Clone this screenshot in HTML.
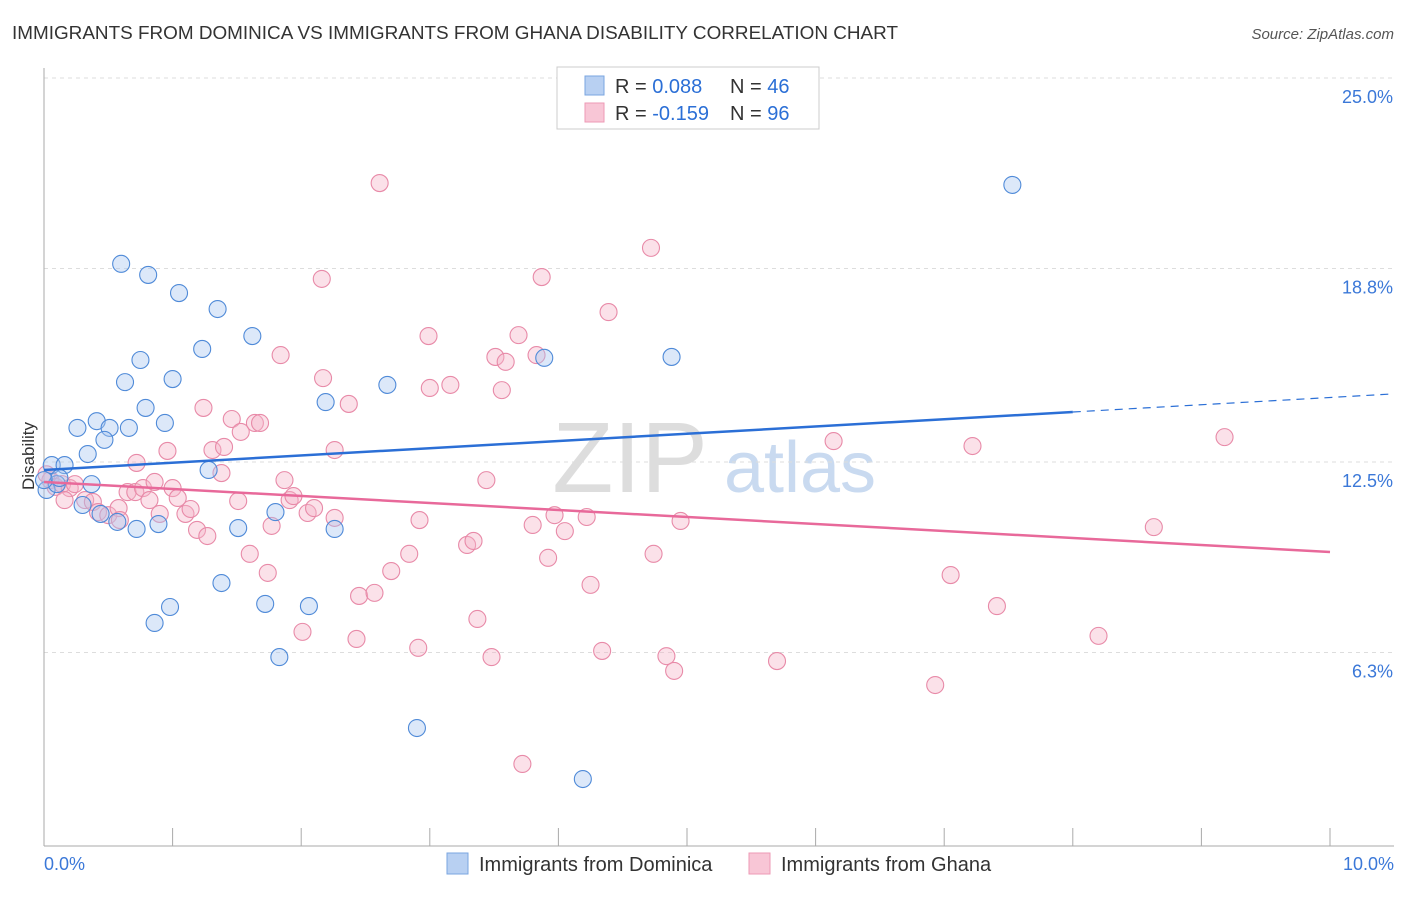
<!DOCTYPE html>
<html><head><meta charset="utf-8"><style>
body{margin:0;background:#fff;font-family:"Liberation Sans",sans-serif;}
svg text{font-family:"Liberation Sans",sans-serif;}
</style></head><body>
<svg id="c" width="1406" height="892">
<text x="12" y="39" font-size="18.5" fill="#333" textLength="886" lengthAdjust="spacingAndGlyphs">IMMIGRANTS FROM DOMINICA VS IMMIGRANTS FROM GHANA DISABILITY CORRELATION CHART</text>
<text x="1394" y="39" font-size="15" fill="#555" font-style="italic" text-anchor="end">Source: ZipAtlas.com</text>
<text x="630" y="492" font-size="100" fill="#ddd" font-family="Liberation Serif" text-anchor="middle">ZIP</text>
<text x="800" y="492" font-size="72" fill="#c9daf0" text-anchor="middle">atlas</text>
<g id="grid"></g><g id="axes"></g><g id="pts"></g><g id="trend"></g>
<text transform="translate(34,456) rotate(-90)" font-size="17" fill="#333" text-anchor="middle">Disability</text>
<g>
<rect x="557" y="67" width="262" height="62" fill="#fff" stroke="#ccc"/>
<rect x="585" y="76" width="19" height="19" fill="#b8d0f2" stroke="#7aa6e0"/>
<rect x="585" y="103" width="19" height="19" fill="#f8c6d6" stroke="#ee9ab5"/>
<text x="615" y="93" font-size="20" fill="#333">R = <tspan fill="#2b6fd6">0.088</tspan><tspan x="730">N = </tspan><tspan fill="#2b6fd6">46</tspan></text>
<text x="615" y="120" font-size="20" fill="#333">R = <tspan fill="#2b6fd6">-0.159</tspan><tspan x="730">N = </tspan><tspan fill="#2b6fd6">96</tspan></text>
</g>
<g>
<rect x="447" y="853" width="21" height="21" fill="#b8d0f2" stroke="#7aa6e0"/>
<text x="479" y="871" font-size="20" fill="#333">Immigrants from Dominica</text>
<rect x="749" y="853" width="21" height="21" fill="#f8c6d6" stroke="#ee9ab5"/>
<text x="781" y="871" font-size="20" fill="#333">Immigrants from Ghana</text>
</g>
</svg>
<script>
const yTicks=[25.0,18.8,12.5,6.3];
const yTickLabels=["25.0%","18.8%","12.5%","6.3%"];
const xTickLabels=["0.0%","10.0%"];
const blueX=[0.02,0.06,0.16,0.10,0.26,0.34,0.41,0.37,0.30,0.44,0.51,0.47,0.57,0.66,0.72,0.63,0.75,0.79,0.60,0.81,1.05,1.35,1.23,1.00,0.94,0.89,1.28,1.51,1.38,0.98,0.86,1.62,1.72,1.80,1.83,2.06,2.19,2.26,2.67,2.90,3.89,4.19,4.88,7.53,0.0,0.12];
const blueY=[11.59,12.40,12.40,11.78,13.61,12.76,13.83,11.78,11.10,10.81,13.61,13.22,10.55,13.61,10.32,15.10,15.82,14.26,18.95,18.59,18.0,17.48,16.18,15.20,13.77,10.48,12.24,10.35,8.56,7.78,7.26,16.60,7.88,10.87,6.15,7.81,14.45,10.32,15.01,3.84,15.89,2.18,15.92,21.52,11.91,11.98];
const pinkX=[0.05,0.09,0.14,0.20,0.16,0.24,0.32,0.38,0.42,0.50,0.58,0.59,0.65,0.71,0.72,0.77,0.82,0.86,0.90,0.96,1.00,1.04,1.10,1.14,1.19,1.27,1.24,1.31,1.38,1.40,1.46,1.51,1.53,1.60,1.64,1.68,1.74,1.77,1.84,1.87,1.91,1.94,2.01,2.05,2.10,2.16,2.17,2.26,2.26,2.37,2.43,2.45,2.57,2.61,2.70,2.84,2.91,2.92,2.99,3.00,3.16,3.29,3.34,3.37,3.44,3.48,3.51,3.56,3.59,3.69,3.72,3.80,3.83,3.87,3.92,3.97,4.05,4.22,4.25,4.34,4.39,4.72,4.74,4.84,4.90,4.95,5.70,6.14,6.93,7.05,7.22,7.41,8.20,8.63,9.18,0.02];
const pinkY=[11.91,11.69,11.78,11.65,11.26,11.78,11.26,11.20,10.87,10.77,11.00,10.61,11.52,11.52,12.47,11.65,11.26,11.85,10.81,12.86,11.65,11.33,10.81,10.97,10.29,10.09,14.26,12.89,12.14,12.99,13.90,11.23,13.48,9.51,13.77,13.77,8.89,10.42,15.98,11.91,11.26,11.39,6.97,10.84,11.00,18.46,15.23,12.89,10.68,14.39,6.74,8.14,8.24,21.58,8.95,9.51,6.45,10.61,16.60,14.91,15.01,9.80,9.93,7.39,11.91,6.15,15.92,14.84,15.76,16.63,2.67,10.45,15.98,18.52,9.38,10.77,10.25,10.71,8.50,6.35,17.38,19.47,9.51,6.18,5.70,10.58,6.02,13.18,5.24,8.82,13.02,7.81,6.84,10.38,13.31,12.1];
const blueTrend=[12.24,0.236];
const pinkTrend=[11.85,-0.228];
const NS="http://www.w3.org/2000/svg";
const X0=44,X1=1330,Y0=846;
function sx(v){return X0+(X1-X0)*v/10;}
function sy(v){return Y0-(Y0-78)*v/25;}
function mk(tag,attrs,parent){const e=document.createElementNS(NS,tag);for(const k in attrs)e.setAttribute(k,attrs[k]);parent.appendChild(e);return e;}
const grid=document.getElementById('grid'),axes=document.getElementById('axes'),pts=document.getElementById('pts'),trend=document.getElementById('trend');
yTicks.forEach((t,i)=>{
  const l=mk('line',{x1:X0,x2:1394,y1:sy(t),y2:sy(t),stroke:'#ddd','stroke-dasharray':'4 4'},grid);
  
  
  const tx=mk('text',{x:1393,y:sy(t)+25,'font-size':18,fill:'#3b78d8','text-anchor':'end'},grid);
  tx.textContent=yTickLabels[i];
  
  
});
const ya=mk('line',{x1:X0,x2:X0,y1:68,y2:Y0,stroke:'#aaa'},axes);


const xa=mk('line',{x1:X0,x2:1394,y1:Y0,y2:Y0,stroke:'#aaa'},axes);


for(let i=1;i<=10;i++){
  const t=mk('line',{x1:sx(i),x2:sx(i),y1:Y0,y2:Y0-18,stroke:'#aaa'},axes);
  
  
}
[[0,'start',X0],[10,'end',1394]].forEach((d,i)=>{
  const tx=mk('text',{x:d[2],y:870,'font-size':18,fill:'#3b78d8','text-anchor':d[1]},axes);
  tx.textContent=xTickLabels[i];
  
  
});
function dots(xs,ys,fill,stroke,name){xs.forEach((x,i)=>{
  const c=mk('circle',{cx:sx(x),cy:sy(ys[i]),r:8.5,fill:fill,'fill-opacity':0.4,stroke:stroke,'stroke-width':1.1},pts);
  
  
});}
dots(pinkX,pinkY,'#f6b3c8','#e88aa8','ghana-point');
dots(blueX,blueY,'#a8c6ef','#4f8ad8','dominica-point');
const b1=mk('line',{x1:sx(0),y1:sy(blueTrend[0]),x2:sx(8),y2:sy(blueTrend[0]+8*blueTrend[1]),stroke:'#2b6fd6','stroke-width':2.5},trend);


const b2=mk('line',{x1:sx(8),y1:sy(blueTrend[0]+8*blueTrend[1]),x2:sx(10.5),y2:sy(blueTrend[0]+10.5*blueTrend[1]),stroke:'#2b6fd6','stroke-width':1.2,'stroke-dasharray':'8 6'},trend);


const p1=mk('line',{x1:sx(0),y1:sy(pinkTrend[0]),x2:sx(10),y2:sy(pinkTrend[0]+10*pinkTrend[1]),stroke:'#e8699a','stroke-width':2.5},trend);


</script>
</body></html>
